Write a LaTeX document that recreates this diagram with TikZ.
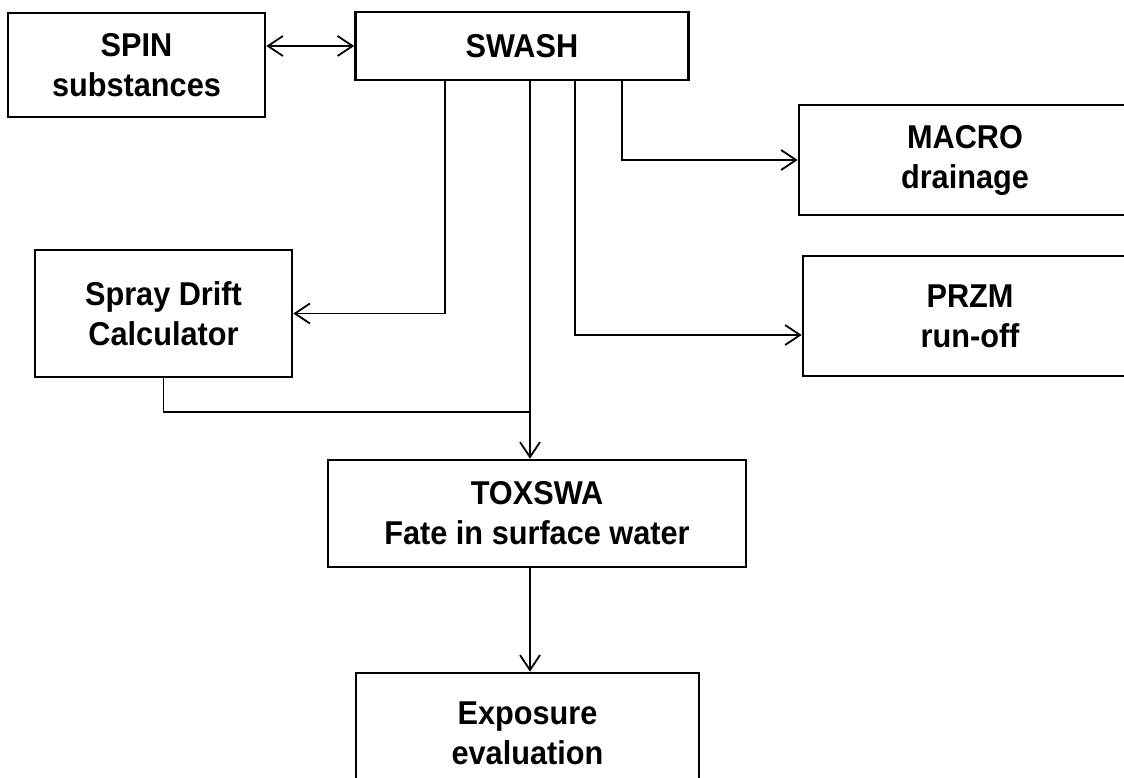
\documentclass[tikz,border=0pt]{standalone}
\usepackage{fontspec}
\setmainfont{Liberation Sans}[FakeStretch=0.93]
\usetikzlibrary{arrows.meta}

\begin{document}
\begin{tikzpicture}[
  x=1pt, y=-1pt,
  >={Straight Barb[length=15pt, width=20pt]},
  box/.style={draw, line width=2.6pt, inner sep=0pt, align=center,
    font=\bfseries\fontsize{33}{40}\selectfont},
  link/.style={line width=1.8pt},
]

% ══════════════════════════════════════════════════════
% Frame (the right and bottom boxes run off the page)
% ══════════════════════════════════════════════════════
\useasboundingbox (0,0) rectangle (1124,778);
\clip (0,0) rectangle (1124,778);

% ══════════════════════════════════════════════════════
% Model boxes
% ══════════════════════════════════════════════════════
\node[box, minimum width=257pt, minimum height=104pt] (spin) at (136.5,65)
  {SPIN\\substances};
\node[box, minimum width=333pt, minimum height=68pt] (swash) at (522,46)
  {SWASH};
\node[box, minimum width=332pt, minimum height=110pt] (macro) at (965,160)
  {MACRO\\drainage};
\node[box, minimum width=334pt, minimum height=120pt] (przm) at (970,316)
  {PRZM\\run-off};
\node[box, minimum width=257pt, minimum height=127pt] (spray) at (163.5,313.5)
  {Spray Drift\\Calculator};
\node[box, minimum width=418pt, minimum height=107pt] (toxswa) at (537,513.5)
  {TOXSWA\\Fate in surface water};
\node[box, minimum width=343pt, minimum height=120pt] (exposure) at (527.5,733)
  {Exposure\\evaluation};

% ══════════════════════════════════════════════════════
% Taps on the bottom edge of SWASH
% ══════════════════════════════════════════════════════
\coordinate (tapSpray) at (445,80);
\coordinate (tapTox)   at (530,80);
\coordinate (tapPrzm)  at (575,80);
\coordinate (tapMacro) at (622,80);
% where the drift line meets the TOXSWA feed
\coordinate (join) at (530,412);

% ══════════════════════════════════════════════════════
% Connectors
% ══════════════════════════════════════════════════════
\draw[link, <->] (spin.east |- swash.west) -- (swash.west);

\draw[link, ->] (tapSpray) |- (spray.east);
\draw[link, ->] (tapMacro) |- (macro.west);
\draw[link, ->] (tapPrzm) |- ([yshift=-19pt]przm.west);
\draw[link, ->] (tapTox) -- (tapTox |- toxswa.north);

\draw[link] (spray.south) |- (join);

\draw[link, ->] (toxswa.south -| tapTox) -- (exposure.north -| tapTox);

\end{tikzpicture}
\end{document}
